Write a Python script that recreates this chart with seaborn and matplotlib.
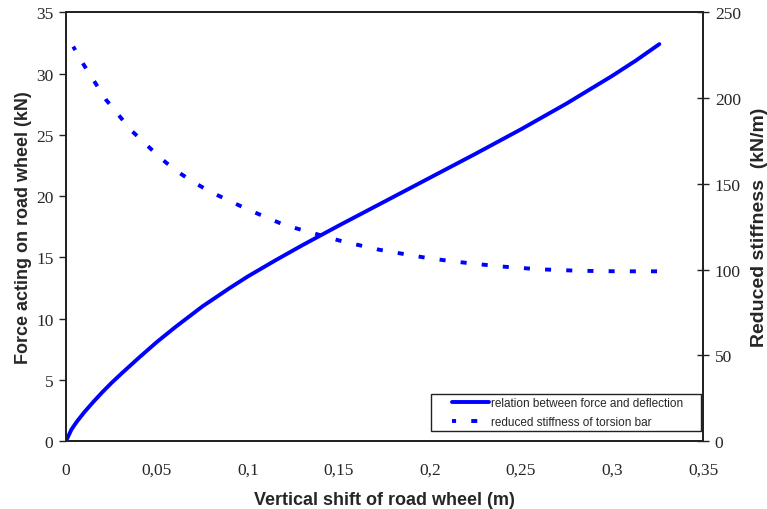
import matplotlib
matplotlib.use("Agg")
import matplotlib.pyplot as plt
import seaborn as sns
import pandas as pd
from matplotlib.patches import Rectangle
from matplotlib.ticker import FuncFormatter, MultipleLocator

# Force on the road wheel versus its vertical shift
shift_force = [0.0, 0.003, 0.006, 0.01, 0.015, 0.02, 0.025, 0.03, 0.04, 0.05,
               0.06, 0.075, 0.09, 0.1, 0.115, 0.13, 0.15, 0.175, 0.2, 0.225,
               0.25, 0.275, 0.3, 0.313, 0.326]
force_kn = [0.0, 0.95, 1.6, 2.35, 3.2, 4.0, 4.75, 5.45, 6.8, 8.1,
            9.3, 11.0, 12.5, 13.45, 14.75, 16.0, 17.6, 19.55, 21.5, 23.45,
            25.45, 27.55, 29.8, 31.05, 32.4]

# Reduced stiffness of the torsion bar versus vertical shift
shift_stiff = [0.004, 0.01, 0.016, 0.022, 0.029, 0.036, 0.044, 0.052, 0.06, 0.07,
               0.08, 0.09, 0.1, 0.11, 0.12, 0.13, 0.14, 0.15, 0.16, 0.172,
               0.185, 0.2, 0.216, 0.238, 0.26, 0.282, 0.304, 0.326]
stiffness = [230, 219, 209, 199, 190, 181, 173, 165, 158, 151,
             145, 140, 135, 130.5, 126, 123, 120, 117, 114.5, 111.6,
             109.2, 106.5, 104.4, 101.9, 100.2, 99.3, 99.0, 99.0]

series_labels = ["relation between force and deflection",
                 "reduced stiffness of torsion bar"]

sns.set_style("white")
plt.rcParams["font.family"] = ["Liberation Serif", "DejaVu Serif"]

df_force = pd.DataFrame({"x": shift_force, "y": force_kn})
df_stiff = pd.DataFrame({"x": shift_stiff, "y": stiffness})

fig = plt.figure(figsize=(7.67, 5.10), dpi=100)
ax = fig.add_axes([0.086, 0.133, 0.8306, 0.841])
ax2 = ax.twinx()

blue = "#0000FF"
sns.lineplot(data=df_force, x="x", y="y", ax=ax, color=blue, lw=2.8,
             label=series_labels[0], legend=False)
sns.lineplot(data=df_stiff, x="x", y="y", ax=ax2, color=blue, lw=2.8,
             linestyle=(0.5, (1.55, 3.9)), label=series_labels[1], legend=False)

ax.set_xlim(0, 0.35)
ax.set_ylim(0, 35)
ax2.set_ylim(0, 250)
ax.xaxis.set_major_locator(MultipleLocator(0.05))
ax.yaxis.set_major_locator(MultipleLocator(5))
ax2.yaxis.set_major_locator(MultipleLocator(50))

def comma_fmt(v, pos):
    s = f"{v:.2f}".rstrip("0").rstrip(".")
    return s.replace(".", ",")

ax.xaxis.set_major_formatter(FuncFormatter(comma_fmt))

for a in (ax, ax2):
    for sp in a.spines.values():
        sp.set_color("#222222")
        sp.set_linewidth(1.3)

ax.tick_params(axis="both", which="major", labelsize=12.5, direction="out",
               length=5, width=1, color="#222222", pad=4)
ax.tick_params(axis="x", pad=10)
ax2.tick_params(axis="y", which="major", labelsize=12.5, direction="inout",
                length=9, width=1, color="#222222", pad=4)

sans = ["Liberation Sans", "DejaVu Sans"]
ax.set_xlabel("Vertical shift of road wheel (m)",
              fontdict=dict(family=sans, weight="bold", size=13), labelpad=9)
ax.set_ylabel("Force acting on road wheel (kN)",
              fontdict=dict(family=sans, weight="bold", size=13), labelpad=3)
ax2.set_ylabel("Reduced stiffness  (kN/m)",
               fontdict=dict(family=sans, weight="bold", size=14), labelpad=7)

# Legend box: a wide white frame with the entries inset from its left edge
ax2.add_patch(Rectangle((0.573, 0.023), 0.424, 0.086, transform=ax2.transAxes,
                        facecolor="white", edgecolor="#222222", lw=1.0, zorder=4))
h1, l1 = ax.get_legend_handles_labels()
h2, l2 = ax2.get_legend_handles_labels()
leg = ax2.legend(h1 + h2, l1 + l2, loc="center left",
                 bbox_to_anchor=(0.606, 0.067), frameon=False,
                 prop={"family": sans, "size": 8.5},
                 handlelength=3.1, handletextpad=0.2, borderpad=0,
                 labelspacing=0.6, borderaxespad=0)
leg.set_zorder(5)

fig.savefig("out.png", dpi=100)
